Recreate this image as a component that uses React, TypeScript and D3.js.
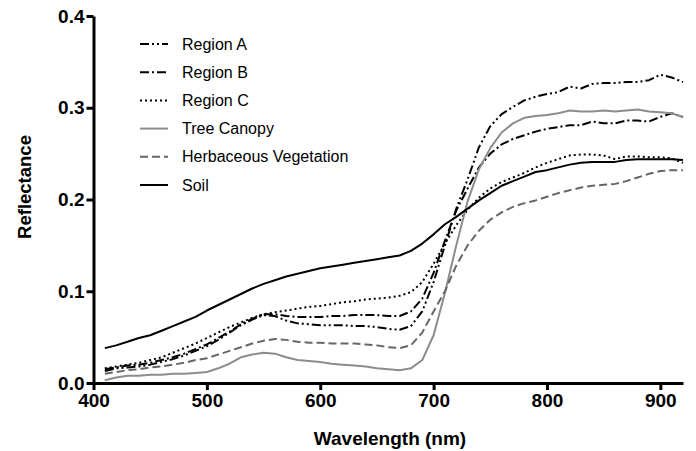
import React, { useRef, useEffect } from 'react';
import * as d3 from 'd3';

// wavelengths in nm, 410..920 step 10
const wavelengths: number[] = d3.range(410, 921, 10);

const regionA = [0.013, 0.016, 0.017, 0.018, 0.020, 0.023, 0.026, 0.030, 0.035, 0.040, 0.047, 0.055, 0.063, 0.069, 0.074, 0.073, 0.068, 0.065, 0.064, 0.063, 0.063, 0.063, 0.062, 0.062, 0.061, 0.059, 0.058, 0.062, 0.078, 0.110, 0.150, 0.190, 0.222, 0.257, 0.280, 0.293, 0.301, 0.308, 0.312, 0.315, 0.317, 0.323, 0.321, 0.326, 0.327, 0.327, 0.328, 0.328, 0.330, 0.336, 0.333, 0.328];
const regionB = [0.015, 0.017, 0.019, 0.020, 0.022, 0.025, 0.028, 0.032, 0.037, 0.042, 0.049, 0.056, 0.064, 0.070, 0.075, 0.075, 0.073, 0.072, 0.072, 0.072, 0.073, 0.073, 0.074, 0.074, 0.074, 0.073, 0.073, 0.078, 0.092, 0.120, 0.155, 0.188, 0.212, 0.235, 0.250, 0.260, 0.266, 0.270, 0.274, 0.277, 0.279, 0.281, 0.281, 0.285, 0.283, 0.283, 0.286, 0.286, 0.285, 0.290, 0.294, 0.290];
const regionC = [0.016, 0.018, 0.020, 0.022, 0.025, 0.028, 0.033, 0.038, 0.043, 0.049, 0.055, 0.061, 0.066, 0.071, 0.075, 0.077, 0.079, 0.081, 0.083, 0.084, 0.086, 0.088, 0.089, 0.091, 0.092, 0.093, 0.095, 0.099, 0.110, 0.130, 0.152, 0.172, 0.189, 0.202, 0.212, 0.219, 0.224, 0.229, 0.235, 0.240, 0.244, 0.248, 0.249, 0.249, 0.248, 0.244, 0.247, 0.247, 0.246, 0.246, 0.245, 0.240];
const treeCanopy = [0.003, 0.006, 0.008, 0.008, 0.009, 0.009, 0.010, 0.010, 0.011, 0.012, 0.016, 0.021, 0.028, 0.031, 0.033, 0.032, 0.028, 0.025, 0.024, 0.023, 0.021, 0.020, 0.019, 0.018, 0.016, 0.015, 0.014, 0.016, 0.025, 0.052, 0.098, 0.150, 0.198, 0.233, 0.256, 0.273, 0.283, 0.289, 0.291, 0.292, 0.294, 0.297, 0.296, 0.296, 0.297, 0.296, 0.297, 0.298, 0.296, 0.295, 0.294, 0.290];
const herbaceous = [0.010, 0.012, 0.014, 0.015, 0.017, 0.018, 0.020, 0.022, 0.025, 0.027, 0.031, 0.035, 0.039, 0.043, 0.046, 0.048, 0.047, 0.045, 0.044, 0.044, 0.043, 0.043, 0.043, 0.042, 0.041, 0.039, 0.038, 0.041, 0.055, 0.078, 0.100, 0.128, 0.150, 0.166, 0.178, 0.186, 0.192, 0.196, 0.199, 0.203, 0.207, 0.210, 0.213, 0.215, 0.216, 0.217, 0.220, 0.224, 0.228, 0.231, 0.232, 0.232];
const soil = [0.038, 0.041, 0.045, 0.049, 0.052, 0.057, 0.062, 0.067, 0.072, 0.079, 0.085, 0.091, 0.097, 0.103, 0.108, 0.112, 0.116, 0.119, 0.122, 0.125, 0.127, 0.129, 0.131, 0.133, 0.135, 0.137, 0.139, 0.144, 0.152, 0.162, 0.173, 0.181, 0.190, 0.199, 0.207, 0.215, 0.220, 0.225, 0.230, 0.232, 0.235, 0.238, 0.240, 0.241, 0.241, 0.241, 0.243, 0.244, 0.244, 0.244, 0.244, 0.243];

const xTicks = [400, 500, 600, 700, 800, 900];
const yTicks = [0.0, 0.1, 0.2, 0.3, 0.4];

const series = [
    { name: 'Region A', values: regionA, color: '#000', dash: '9,3,2,3,2,3' },
    { name: 'Region B', values: regionB, color: '#000', dash: '9,3,2,3' },
    { name: 'Region C', values: regionC, color: '#000', dash: '2,3' },
    { name: 'Tree Canopy', values: treeCanopy, color: '#8c8c8c', dash: null },
    { name: 'Herbaceous Vegetation', values: herbaceous, color: '#666', dash: '8,4' },
    { name: 'Soil', values: soil, color: '#000', dash: null },
];

const App = () => {
    const ref = useRef<SVGSVGElement>(null);

    useEffect(() => {
        if (!ref.current) return;
        const svg = d3.select(ref.current);
        svg.selectAll('*').remove();

        const x = d3.scaleLinear().domain([400, 920]).range([93.5, 683]);
        const y = d3.scaleLinear().domain([0, 0.4]).range([383, 16]);
        const font = 'Arial, "Liberation Sans", Helvetica, sans-serif';

        // curves
        const line = d3.line<number>()
            .x((_, i) => x(wavelengths[i]))
            .y(d => y(d));

        series.forEach(s => {
            svg.append('path')
                .attr('d', line(s.values))
                .attr('fill', 'none')
                .attr('stroke', s.color)
                .attr('stroke-width', 2)
                .attr('stroke-dasharray', s.dash)
                .attr('stroke-linejoin', 'round');
        });

        // axes
        const xAxis = svg.append('g')
            .attr('transform', `translate(0,${y(0)})`)
            .call(d3.axisBottom(x).tickValues(xTicks).tickSize(7).tickSizeOuter(0).tickPadding(4));
        const yAxis = svg.append('g')
            .attr('transform', `translate(${x(400)},0)`)
            .call(d3.axisLeft(y).tickValues(yTicks).tickSize(7).tickSizeOuter(0).tickPadding(2).tickFormat(d3.format('.1f')));

        [xAxis, yAxis].forEach(a => {
            a.select('.domain').attr('stroke-width', 3).attr('stroke', '#000');
            a.selectAll('.tick line').attr('stroke-width', 3).attr('stroke', '#000');
            a.selectAll('.tick text')
                .attr('font-family', font)
                .attr('font-weight', 'bold')
                .attr('font-size', 19)
                .attr('fill', '#000');
        });

        // axis titles
        svg.append('text')
            .attr('x', 390).attr('y', 445)
            .attr('text-anchor', 'middle')
            .attr('font-family', font).attr('font-weight', 'bold').attr('font-size', 19)
            .text('Wavelength (nm)');
        svg.append('text')
            .attr('transform', 'translate(31,187) rotate(-90)')
            .attr('text-anchor', 'middle')
            .attr('font-family', font).attr('font-weight', 'bold').attr('font-size', 18.5)
            .text('Reflectance');

        // legend
        const legend = svg.append('g');
        series.forEach((s, i) => {
            const ly = 44 + i * 28.2;
            legend.append('line')
                .attr('x1', 140).attr('x2', 168)
                .attr('y1', ly).attr('y2', ly)
                .attr('stroke', s.color)
                .attr('stroke-width', 2)
                .attr('stroke-dasharray', s.dash);
            legend.append('text')
                .attr('x', 182).attr('y', ly)
                .attr('dy', '0.35em')
                .attr('font-family', font).attr('font-size', 16)
                .text(s.name);
        });
    }, []);

    return (
        <svg ref={ref} width={696} height={451}
            style={{ position: 'absolute', left: 0, top: 0, background: '#fff' }} />
    );
};

export default App;
